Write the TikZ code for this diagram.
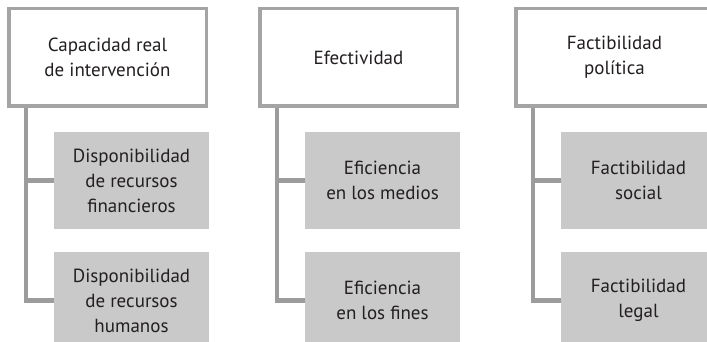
\documentclass[tikz,border=0pt]{standalone}
\usepackage{fontspec}
\setmainfont{PT Sans}
\definecolor{marco}{HTML}{A4A4A4}
\definecolor{linea}{HTML}{9C9C9C}
\definecolor{relleno}{HTML}{C9C9C9}
\definecolor{tinta}{HTML}{231F20}

\begin{document}
\begin{tikzpicture}[x=1pt, y=-1pt,
    headbox/.style={draw=marco, line width=3.5pt, fill=white, text=tinta,
        minimum width=197.5pt, minimum height=97.5pt, inner sep=0pt,
        align=center, font=\fontsize{19}{25}\selectfont},
    subbox/.style={fill=relleno, text=tinta,
        minimum width=155pt, minimum height=97pt, inner sep=0pt,
        align=center, font=\fontsize{19}{25}\selectfont},
    conn/.style={draw=linea, line width=4.5pt}]
    \useasboundingbox (0,0) rectangle (707,342);
    \clip (0,0) rectangle (707,342);

    % capacidad real
    \node[headbox] (cap) at (107.5, 57.5) {Capacidad real\\de intervención};
    \node[subbox] (rf) at (131.5, 180.5) {Disponibilidad\\de recursos\\financieros};
    \node[subbox] (rh) at (131.5, 300.5) {Disponibilidad\\de recursos\\humanos};
    \coordinate (v1) at ([xshift=18.75pt]cap.south west);
    \draw[conn] (v1) |- (rh.west);
    \draw[conn] (rf.west) -- (rf.west -| v1);

    % efectividad
    \node[headbox] (efe) at (358.5, 57.5) {Efectividad};
    \node[subbox] (em) at (382.5, 180.5) {Eficiencia\\en los medios};
    \node[subbox] (ef) at (382.5, 300.5) {Eficiencia\\en los fines};
    \coordinate (v2) at ([xshift=18.75pt]efe.south west);
    \draw[conn] (v2) |- (ef.west);
    \draw[conn] (em.west) -- (em.west -| v2);

    % factibilidad politica
    \node[headbox] (pol) at (614.5, 57.5) {Factibilidad\\política};
    \node[subbox] (soc) at (638.5, 180.5) {Factibilidad\\social};
    \node[subbox] (leg) at (638.5, 300.5) {Factibilidad\\legal};
    \coordinate (v3) at ([xshift=18.75pt]pol.south west);
    \draw[conn] (v3) |- (leg.west);
    \draw[conn] (soc.west) -- (soc.west -| v3);
\end{tikzpicture}
\end{document}
